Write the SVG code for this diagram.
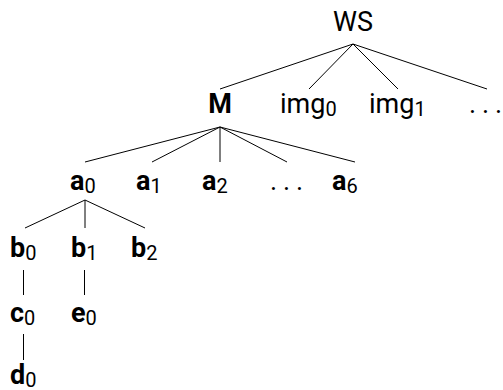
<svg xmlns="http://www.w3.org/2000/svg" width="503" height="390" viewBox="0 0 503 390">
<style>
text{font-family:Roboto,"DejaVu Sans",sans-serif;font-size:27px;fill:#000}
.b{font-weight:bold}
.s{font-size:20px;font-weight:normal}
line{stroke:#000;stroke-width:1}
</style>
<rect width="503" height="390" fill="#fff"/>
<g id="connectors">
<line x1="353" y1="44" x2="220" y2="89"/>
<line x1="353" y1="44" x2="309" y2="89"/>
<line x1="353" y1="44" x2="398" y2="89"/>
<line x1="353" y1="44" x2="487" y2="89"/>
<line x1="220" y1="127" x2="85" y2="162"/>
<line x1="220" y1="127" x2="152" y2="162"/>
<line x1="220" y1="127" x2="220" y2="162"/>
<line x1="220" y1="127" x2="287" y2="162"/>
<line x1="220" y1="127" x2="355" y2="162"/>
<line x1="85" y1="200" x2="25" y2="228"/>
<line x1="85" y1="200" x2="85" y2="228"/>
<line x1="85" y1="200" x2="145" y2="228"/>
<line x1="23.5" y1="270" x2="23.5" y2="295"/>
<line x1="84.5" y1="270" x2="84.5" y2="295"/>
<line x1="23.5" y1="334" x2="23.5" y2="360"/>
</g>
<g id="WS"><text x="353" y="31" text-anchor="middle">WS</text></g>
<g id="M"><text x="220" y="113" text-anchor="middle" class="b">M</text></g>
<g id="img0"><text x="280" y="113">img<tspan class="s" dy="3">0</tspan></text></g>
<g id="img1"><text x="369" y="113">img<tspan class="s" dy="3">1</tspan></text></g>
<g id="dots1"><text x="469 482 495" y="113">...</text></g>
<g id="a0"><text x="70" y="190" class="b">a<tspan class="s" dy="3">0</tspan></text></g>
<g id="a1"><text x="136" y="190" class="b">a<tspan class="s" dy="3">1</tspan></text></g>
<g id="a2"><text x="202" y="190" class="b">a<tspan class="s" dy="3">2</tspan></text></g>
<g id="dots2"><text x="270 283 296" y="190">...</text></g>
<g id="a6"><text x="332" y="190" class="b">a<tspan class="s" dy="3">6</tspan></text></g>
<g id="b0"><text x="10" y="257" class="b">b<tspan class="s" dy="3">0</tspan></text></g>
<g id="b1"><text x="71" y="257" class="b">b<tspan class="s" dy="3">1</tspan></text></g>
<g id="b2"><text x="131" y="257" class="b">b<tspan class="s" dy="3">2</tspan></text></g>
<g id="c0"><text x="10" y="322" class="b">c<tspan class="s" dy="3">0</tspan></text></g>
<g id="e0"><text x="71" y="322" class="b">e<tspan class="s" dy="3">0</tspan></text></g>
<g id="d0"><text x="10" y="384" class="b">d<tspan class="s" dy="3">0</tspan></text></g>
</svg>
